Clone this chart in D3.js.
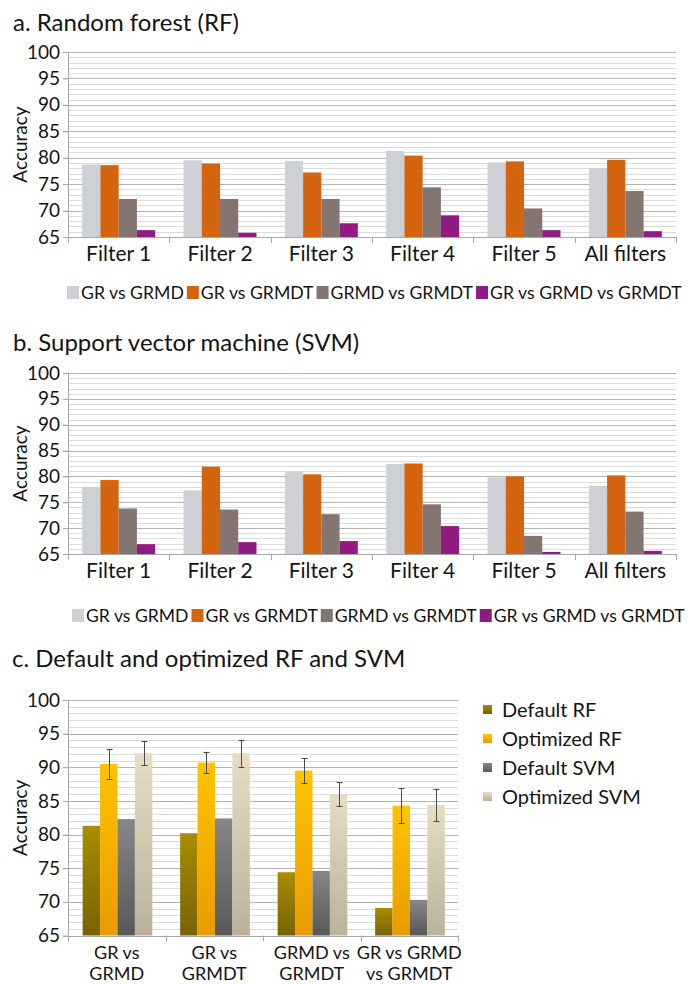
<!DOCTYPE html>
<html><head><meta charset="utf-8">
<script src="https://cdn.jsdelivr.net/npm/d3@7/dist/d3.min.js"></script>
<style>
body{margin:0;background:#fff}
svg{display:block}
text{font-family:Lato,"Noto Sans",sans-serif;fill:#141414}
</style>
</head><body>
<svg id="chart" width="690" height="984"></svg>
<script>
// ---------- data ----------
const filters = ["Filter 1","Filter 2","Filter 3","Filter 4","Filter 5","All filters"];
const comparisons = ["GR vs GRMD","GR vs GRMDT","GRMD vs GRMDT","GR vs GRMD vs GRMDT"];
const yTicks = [65,70,75,80,85,90,95,100];

// a. Random forest
const rfGRvsGRMD      = [78.7,79.5,79.4,81.3,79.1,78.0];
const rfGRvsGRMDT     = [78.6,78.9,77.2,80.4,79.3,79.6];
const rfGRMDvsGRMDT   = [72.2,72.2,72.2,74.4,70.4,73.7];
const rfGRvsGRMDvsGRMDT = [66.3,65.8,67.6,69.1,66.3,66.1];

// b. SVM
const svmGRvsGRMD      = [78.0,77.3,80.9,82.4,79.8,78.2];
const svmGRvsGRMDT     = [79.3,81.9,80.4,82.5,80.0,80.2];
const svmGRMDvsGRMDT   = [73.8,73.6,72.7,74.6,68.5,73.2];
const svmGRvsGRMDvsGRMDT = [66.9,67.3,67.5,70.4,65.4,65.6];

// c. Default and optimized
const cCategories = ["GR vs GRMD","GR vs GRMDT","GRMD vs GRMDT","GR vs GRMD vs GRMDT"];
const cLabelLines = [["GR vs","GRMD"],["GR vs","GRMDT"],["GRMD vs","GRMDT"],["GR vs GRMD","vs GRMDT"]];
const cSeries = ["Default RF","Optimized RF","Default SVM","Optimized SVM"];
const defaultRF    = [81.3,80.2,74.4,69.1];
const optimizedRF  = [90.5,90.7,89.5,84.3];
const defaultSVM   = [82.3,82.4,74.6,70.3];
const optimizedSVM = [92.1,92.1,86.0,84.4];
const optimizedRFErr  = [2.2,1.6,1.85,2.6];
const optimizedSVMErr = [1.8,2.0,1.8,2.4];

// ---------- styles ----------
const abColors = ["#cdd0d5","#d5640f","#837570","#901b82"];
const cGrad = [["#a98d00","#786206"],["#ffc300","#e89c00"],["#878787","#585858"],["#e6ddc3","#bcb19a"]];

const svg = d3.select("#chart");
const defs = svg.append("defs");
cGrad.forEach((c,i)=>{
  const lg = defs.append("linearGradient").attr("id","g"+i).attr("x1",0).attr("y1",0).attr("x2",0).attr("y2",1);
  lg.append("stop").attr("offset","0%").attr("stop-color",c[0]);
  lg.append("stop").attr("offset","100%").attr("stop-color",c[1]);
});

function frame(cfg){
  const g = svg.append("g");
  const y = d3.scaleLinear().domain([65,100]).range([cfg.yBot,cfg.yTop]);
  const x = d3.scaleBand().domain(cfg.cats).range([cfg.x0,cfg.x1]).padding(0);
  const vals = d3.range(65,101);
  g.append("g").selectAll("line").data(vals.filter(v=>v%5!==0)).join("line")
    .attr("x1",cfg.x0).attr("x2",cfg.x1).attr("y1",d=>Math.round(y(d))+0.5).attr("y2",d=>Math.round(y(d))+0.5)
    .attr("stroke","#dcdcdc").attr("stroke-width",1);
  g.append("g").selectAll("line").data(vals.filter(v=>v%5===0 && v>65)).join("line")
    .attr("x1",cfg.x0-5).attr("x2",cfg.x1).attr("y1",d=>Math.round(y(d))+0.5).attr("y2",d=>Math.round(y(d))+0.5)
    .attr("stroke","#b4b4b4").attr("stroke-width",1);
  const ya = g.append("g").attr("transform",`translate(${cfg.x0},0)`)
    .call(d3.axisLeft(y).tickValues(yTicks).tickSize(5).tickPadding(3));
  ya.select(".domain").remove();
  ya.selectAll(".tick line").attr("stroke","#a8a8a8");
  ya.selectAll(".tick text").attr("font-size",cfg.tickSize).attr("font-family","Lato").attr("fill","#141414");
  g.append("text").attr("transform",`translate(${cfg.labelX},${(cfg.yTop+cfg.yBot)/2}) rotate(-90)`)
    .attr("text-anchor","middle").attr("dy","0.35em").attr("font-size",19).text("Accuracy");
  return {g,x,y};
}

function axesOver(g,cfg,x,y){
  g.append("line").attr("x1",cfg.x0+0.5).attr("x2",cfg.x0+0.5).attr("y1",cfg.yTop).attr("y2",cfg.yBot)
    .attr("stroke","#a8a8a8");
  g.append("line").attr("x1",cfg.x0-5).attr("x2",cfg.x1).attr("y1",Math.round(y(65))+0.5).attr("y2",Math.round(y(65))+0.5)
    .attr("stroke","#a8a8a8");
  const bounds = cfg.cats.map(c=>x(c)).concat([cfg.x1]);
  g.append("g").selectAll("line").data(bounds).join("line")
    .attr("x1",d=>Math.round(d)+0.5).attr("x2",d=>Math.round(d)+0.5)
    .attr("y1",cfg.yBot).attr("y2",cfg.yBot+6).attr("stroke","#a8a8a8");
}

function legendRow(cfg){
  const lg = svg.append("g");
  const items = comparisons.map((name,i)=>{
    const r = lg.append("rect").attr("width",12).attr("height",13).attr("y",cfg.legY-13).attr("fill",abColors[i]);
    const t = lg.append("text").attr("y",cfg.legY).attr("font-size",19).text(name);
    return {r,t};
  });
  const natural = d3.sum(items,d=>d.t.node().getComputedTextLength());
  const avail = cfg.legW - items.length*(14+3);
  const fs = 19*avail/natural;
  let cx = cfg.legX;
  items.forEach(({r,t})=>{
    t.attr("font-size",fs);
    r.attr("x",cx); cx += 14;
    t.attr("x",cx); cx += t.node().getComputedTextLength()+3;
  });
}

function groupedPanel(cfg, seriesArr){
  const {g,x,y} = frame(cfg);
  const xs = d3.scaleBand().domain(d3.range(seriesArr.length)).range([x.bandwidth()*0.14,x.bandwidth()*0.86]).padding(0);
  seriesArr.forEach((vals,si)=>{
    g.append("g").selectAll("rect").data(vals).join("rect")
      .attr("x",(d,i)=>x(cfg.cats[i])+xs(si)).attr("width",xs.bandwidth())
      .attr("y",d=>y(d)).attr("height",d=>y(65)-y(d)).attr("fill",abColors[si]);
  });
  axesOver(g,cfg,x,y);
  g.append("g").selectAll("text").data(cfg.cats).join("text")
    .attr("x",d=>x(d)+x.bandwidth()/2).attr("y",cfg.catY).attr("text-anchor","middle")
    .attr("font-size",21).text(d=>d);
  svg.append("text").attr("x",13).attr("y",cfg.titleY).attr("font-size",24).text(cfg.title);
  legendRow(cfg);
}

groupedPanel({cats:filters,x0:68,x1:676,yTop:52,yBot:237,labelX:20,tickSize:19,catY:261,
  title:"a. Random forest (RF)",titleY:31,legX:67,legY:299,legW:618},
  [rfGRvsGRMD,rfGRvsGRMDT,rfGRMDvsGRMDT,rfGRvsGRMDvsGRMDT]);

groupedPanel({cats:filters,x0:68,x1:676,yTop:373,yBot:554,labelX:20,tickSize:19,catY:578,
  title:"b. Support vector machine (SVM)",titleY:351,legX:72,legY:622,legW:616},
  [svmGRvsGRMD,svmGRvsGRMDT,svmGRMDvsGRMDT,svmGRvsGRMDvsGRMDT]);

// panel c
(function(){
  const cfg = {cats:cCategories,x0:68,x1:458,yTop:700,yBot:935.5,labelX:20,tickSize:19};
  const {g,x,y} = frame(cfg);
  const series = [defaultRF,optimizedRF,defaultSVM,optimizedSVM];
  const errs = [null,optimizedRFErr,null,optimizedSVMErr];
  const xs = d3.scaleBand().domain(d3.range(4)).range([x.bandwidth()*0.15,x.bandwidth()*0.865]).padding(0);
  series.forEach((vals,si)=>{
    g.append("g").selectAll("rect").data(vals).join("rect")
      .attr("x",(d,i)=>x(cfg.cats[i])+xs(si)).attr("width",xs.bandwidth())
      .attr("y",d=>y(d)).attr("height",d=>y(65)-y(d)).attr("fill",`url(#g${si})`);
  });
  axesOver(g,cfg,x,y);
  series.forEach((vals,si)=>{
    if(!errs[si]) return;
    const eg = g.append("g").attr("stroke","#4a4a4a").attr("stroke-width",1);
    vals.forEach((v,i)=>{
      const cx = Math.round(x(cfg.cats[i])+xs(si)+xs.bandwidth()/2)+0.5;
      const e = errs[si][i];
      eg.append("line").attr("x1",cx).attr("x2",cx).attr("y1",y(v+e)).attr("y2",y(v-e));
      [v+e,v-e].forEach(w=>eg.append("line").attr("x1",cx-3).attr("x2",cx+3).attr("y1",Math.round(y(w))+0.5).attr("y2",Math.round(y(w))+0.5));
    });
  });
  cLabelLines.forEach((lines,i)=>{
    lines.forEach((ln,j)=>{
      g.append("text").attr("x",x(cfg.cats[i])+x.bandwidth()/2).attr("y",959+j*21)
        .attr("text-anchor","middle").attr("font-size",18).text(ln);
    });
  });
  svg.append("text").attr("x",12).attr("y",667).attr("font-size",24).text("c. Default and optimized RF and SVM");
  const lg = svg.append("g");
  cSeries.forEach((name,i)=>{
    const cy = 709.5 + i*29;
    lg.append("rect").attr("x",483).attr("y",cy-4.5).attr("width",9).attr("height",9).attr("fill",`url(#g${i})`);
    lg.append("text").attr("x",502).attr("y",cy).attr("dy","0.35em").attr("font-size",20).text(name);
  });
})();
</script>
</body></html>
